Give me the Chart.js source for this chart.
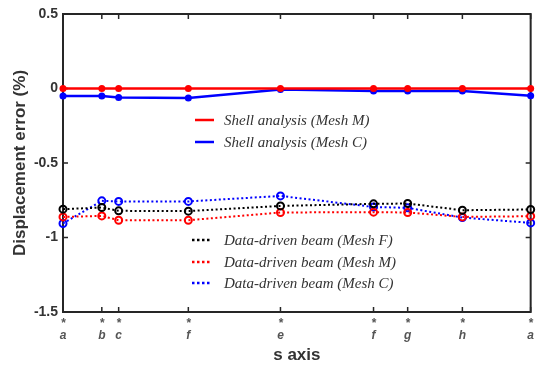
<!DOCTYPE html>
<html>
<head>
<meta charset="utf-8">
<script src="https://cdn.jsdelivr.net/npm/chart.js@4"></script>
<style>
  html, body { margin: 0; padding: 0; background: #fff; }
  #wrap { width: 539px; height: 366px; }
</style>
</head>
<body>
<div id="wrap"><canvas id="chart"></canvas></div>
<script>
// positions along the s axis (normalised) and their point names
const sPositions = [0, 0.083, 0.119, 0.268, 0.465, 0.664, 0.737, 0.854, 1];
const sNames = ['a', 'b', 'c', 'f', 'e', 'f', 'g', 'h', 'a'];
const yTicks = [0.5, 0, -0.5, -1, -1.5];

// displacement error (%)
const shellMeshM = [0, 0, 0, 0, 0, 0, 0, 0, 0];
const shellMeshC = [-0.05, -0.05, -0.06, -0.063, -0.007, -0.016, -0.016, -0.016, -0.048];
const beamMeshF = [-0.81, -0.799, -0.821, -0.823, -0.788, -0.774, -0.772, -0.817, -0.812];
const beamMeshM = [-0.862, -0.855, -0.884, -0.884, -0.832, -0.83, -0.832, -0.862, -0.857];
const beamMeshC = [-0.906, -0.754, -0.758, -0.758, -0.721, -0.795, -0.801, -0.866, -0.902];

const toPoints = vals => vals.map((v, i) => ({ x: sPositions[i], y: v }));

function shellSet(label, vals, color) {
    return {
        label: label,
        data: toPoints(vals),
        borderColor: color,
        backgroundColor: color,
        borderWidth: 2.5,
        pointRadius: 3.5,
        pointBorderWidth: 0,
        pointBackgroundColor: color,
        showLine: true,
        tension: 0,
        clip: false,
        legendGroup: 0
    };
}

function beamSet(label, vals, color) {
    return {
        label: label,
        data: toPoints(vals),
        borderColor: color,
        backgroundColor: color,
        borderWidth: 2,
        borderDash: [2, 2.5],
        pointRadius: 3.5,
        pointBorderWidth: 2,
        pointBackgroundColor: 'rgba(255,255,255,0)',
        pointBorderColor: color,
        showLine: true,
        tension: 0,
        clip: false,
        legendGroup: 1
    };
}

// frame, inward ticks and the two legend boxes
const framePlugin = {
    id: 'frame',
    beforeDatasetsDraw(chart) {
        const ctx = chart.ctx;
        const a = chart.chartArea;
        const xs = chart.scales.x, ys = chart.scales.y;
        ctx.save();
        ctx.strokeStyle = '#262626';
        ctx.lineWidth = 2;
        ctx.strokeRect(a.left, a.top, a.right - a.left, a.bottom - a.top);
        ctx.lineWidth = 1.5;
        ctx.beginPath();
        sPositions.forEach(s => {
            const px = xs.getPixelForValue(s);
            ctx.moveTo(px, a.bottom); ctx.lineTo(px, a.bottom - 5);
            ctx.moveTo(px, a.top); ctx.lineTo(px, a.top + 5);
        });
        yTicks.forEach(v => {
            const py = ys.getPixelForValue(v);
            ctx.moveTo(a.left, py); ctx.lineTo(a.left + 5, py);
            ctx.moveTo(a.right, py); ctx.lineTo(a.right - 5, py);
        });
        ctx.stroke();
        ctx.restore();
    },
    afterDraw(chart) {
        const ctx = chart.ctx;
        // legends
        const rows = [
            { ds: 0, x: 195, y: 120 }, { ds: 1, x: 195, y: 142 },
            { ds: 2, x: 192, y: 240 }, { ds: 3, x: 192, y: 262 }, { ds: 4, x: 192, y: 283 }
        ];
        ctx.save();
        ctx.font = 'italic 15px "Liberation Serif"';
        ctx.textBaseline = 'middle';
        rows.forEach(r => {
            const ds = chart.data.datasets[r.ds];
            ctx.strokeStyle = ds.borderColor;
            ctx.lineWidth = 2.5;
            ctx.setLineDash(ds.legendGroup === 0 ? [] : [2.5, 2.5]);
            ctx.beginPath();
            ctx.moveTo(r.x, r.y);
            ctx.lineTo(r.x + 19, r.y);
            ctx.stroke();
            ctx.setLineDash([]);
            ctx.fillStyle = '#333';
            ctx.fillText(ds.label, 224, r.y + 1);
        });
        ctx.restore();
    }
};

new Chart(document.getElementById('chart'), {
    type: 'scatter',
    data: {
        datasets: [
            shellSet('Shell analysis (Mesh M)', shellMeshM, '#ff0000'),
            shellSet('Shell analysis (Mesh C)', shellMeshC, '#0000ff'),
            beamSet('Data-driven beam (Mesh F)', beamMeshF, '#000000'),
            beamSet('Data-driven beam (Mesh M)', beamMeshM, '#ff0000'),
            beamSet('Data-driven beam (Mesh C)', beamMeshC, '#0000ff')
        ]
    },
    options: {
        responsive: true,
        maintainAspectRatio: false,
        animation: false,
        layout: { padding: { top: 14, right: 7, left: 0, bottom: 0 } },
        plugins: {
            legend: { display: false },
            tooltip: { enabled: false }
        },
        scales: {
            x: {
                type: 'linear',
                min: 0,
                max: 1,
                afterBuildTicks: scale => { scale.ticks = sPositions.map(v => ({ value: v })); },
                afterFit: scale => { scale.height = 54; },
                grid: { display: false, drawTicks: false },
                border: { display: false },
                ticks: {
                    autoSkip: false,
                    maxRotation: 0,
                    padding: 5,
                    color: '#555',
                    font: { family: 'Liberation Sans', size: 12, weight: 'bold', style: 'italic', lineHeight: 1.05 },
                    callback: (v, i) => ['*', sNames[i]]
                },
                title: {
                    display: true,
                    text: 's axis',
                    color: '#333',
                    font: { family: 'Liberation Sans', size: 17, weight: 'bold' },
                    padding: { top: 3, bottom: 0 }
                }
            },
            y: {
                min: -1.5,
                max: 0.5,
                afterBuildTicks: scale => { scale.ticks = yTicks.map(v => ({ value: v })); },
                afterFit: scale => { scale.width = 63; },
                grid: { display: false, drawTicks: false },
                border: { display: false },
                ticks: {
                    padding: 5,
                    color: '#333',
                    font: { family: 'Liberation Sans', size: 14, weight: 'bold' },
                    callback: v => String(v)
                },
                title: {
                    display: true,
                    text: 'Displacement error (%)',
                    color: '#333',
                    font: { family: 'Liberation Sans', size: 17, weight: 'bold' },
                    padding: { top: 10, bottom: 2 }
                }
            }
        }
    },
    plugins: [framePlugin]
});
</script>
</body>
</html>
